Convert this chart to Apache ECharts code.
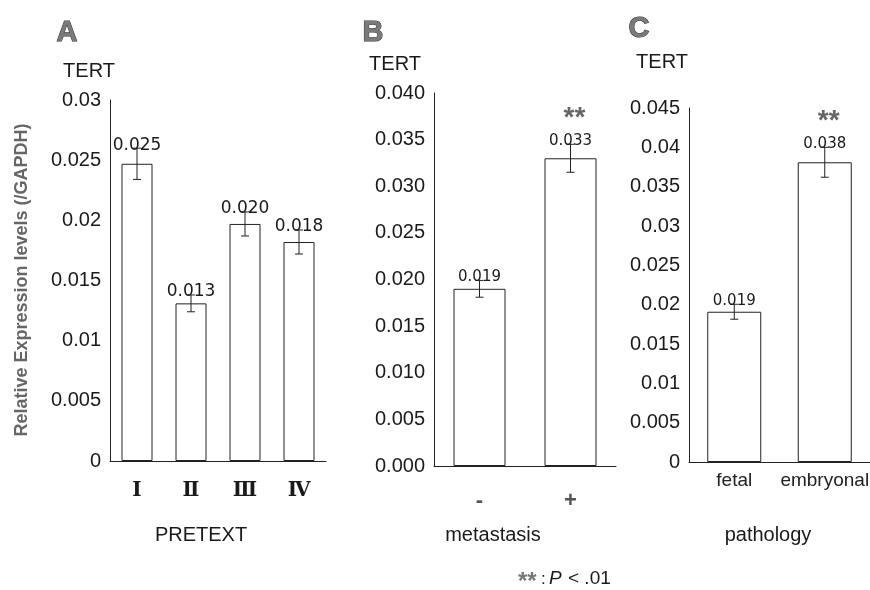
<!DOCTYPE html>
<html>
<head>
<meta charset="UTF-8">
<title>TERT</title>
<script src="https://cdn.jsdelivr.net/npm/echarts@6/dist/echarts.min.js"></script>
<style>
  html, body { margin: 0; padding: 0; background: #fff; }
  #chart { width: 870px; height: 590px; }
</style>
</head>
<body>
<div id="chart"></div>
<script>
// panel A - PRETEXT
var aCats = ['Ⅰ', 'Ⅱ', 'Ⅲ', 'Ⅳ'];
var aVals = [0.0247, 0.0131, 0.0197, 0.0182];
var aErr = [0.0013, 0.0007, 0.0010, 0.0010];
var aSig = ['', '', '', ''];
// panel B - metastasis
var bCats = ['-', '+'];
var bVals = [0.0190, 0.0330];
var bErr = [0.0009, 0.0015];
var bSig = ['', '**'];
// panel C - pathology
var cCats = ['fetal', 'embryonal'];
var cVals = [0.0191, 0.0381];
var cErr = [0.00095, 0.0019];
var cSig = ['', '**'];
// axis ranges
var aMax = 0.03, bMax = 0.04, cMax = 0.045, yStep = 0.005;

var chart = echarts.init(document.getElementById('chart'));
var txt = '#1a1a1a';
var sans = 'Liberation Sans, Arial, sans-serif';

function yAx(idx, max, fmt) {
  return {
    type: 'value', gridIndex: idx, min: 0, max: max, interval: yStep,
    axisLine: { show: true, lineStyle: { color: '#222', width: 1 } },
    axisTick: { show: false },
    splitLine: { show: false },
    axisLabel: { color: txt, fontSize: 20, fontFamily: sans, margin: 9, formatter: fmt }
  };
}

function xAx(idx, cats, margin, label) {
  return {
    type: 'category', gridIndex: idx, data: cats,
    axisLine: { lineStyle: { color: '#222', width: 1 } },
    axisTick: { show: false },
    axisLabel: Object.assign({ color: txt, margin: margin, interval: 0 }, label)
  };
}

function barSeries(idx, vals, w) {
  return {
    type: 'bar', xAxisIndex: idx, yAxisIndex: idx, data: vals, barWidth: w,
    itemStyle: { color: '#fff', borderColor: '#222', borderWidth: 1 },
    silent: true
  };
}

function errSeries(idx, vals, err, sig, labFont) {
  return {
    type: 'custom', xAxisIndex: idx, yAxisIndex: idx, z: 5, clip: false, silent: true,
    data: vals.map(function (v, i) { return [i, v, err[i]]; }),
    renderItem: function (params, api) {
      var i = api.value(0), v = api.value(1), e = api.value(2);
      var top = api.coord([i, v + e]);
      var bot = api.coord([i, v - e]);
      var x = top[0], cw = 4;
      var ls = { stroke: '#222', lineWidth: 1 };
      var kids = [
        { type: 'line', shape: { x1: x, y1: top[1], x2: x, y2: bot[1] }, style: ls },
        { type: 'line', shape: { x1: x - cw, y1: top[1], x2: x + cw, y2: top[1] }, style: ls },
        { type: 'line', shape: { x1: x - cw, y1: bot[1], x2: x + cw, y2: bot[1] }, style: ls },
        { type: 'text', style: { text: v.toFixed(3), x: x, y: top[1] - 3, align: 'center',
            verticalAlign: 'middle', font: labFont, fill: txt } }
      ];
      if (sig[i]) {
        kids.push({ type: 'text', style: { text: sig[i], x: x + 4, y: top[1] - 26, align: 'center',
          verticalAlign: 'middle', font: 'bold 28px ' + sans, fill: '#666' } });
      }
      return { type: 'group', children: kids };
    }
  };
}

function g(text, x, y, style) {
  return { type: 'text', x: x, y: y, style: Object.assign({ text: text, fill: txt, align: 'center',
    verticalAlign: 'middle', font: '20px ' + sans }, style) };
}

var letter = { font: 'bold 29px ' + sans, fill: '#7a7a7a', stroke: '#333', lineWidth: 1 };

var option = {
  animation: false,
  grid: [
    { left: 110, top: 100, width: 216, height: 361, outerBoundsMode: 'none' },
    { left: 434, top: 93, width: 182, height: 373, outerBoundsMode: 'none' },
    { left: 689, top: 108, width: 181, height: 354, outerBoundsMode: 'none' }
  ],
  xAxis: [
    xAx(0, aCats, 20, { fontSize: 20, fontFamily: 'DejaVu Serif, Liberation Serif, serif', fontWeight: 'bold' }),
    xAx(1, bCats, 24, { fontSize: 22, fontFamily: sans, fontWeight: 'bold', color: '#555' }),
    xAx(2, cCats, 9, { fontSize: 19, fontFamily: sans, color: '#222' })
  ],
  yAxis: [
    yAx(0, aMax),
    yAx(1, bMax, function (v) { return v.toFixed(3); }),
    yAx(2, cMax)
  ],
  series: [
    barSeries(0, aVals, 31),
    errSeries(0, aVals, aErr, aSig, '17px DejaVu Sans, sans-serif'),
    barSeries(1, bVals, 52),
    errSeries(1, bVals, bErr, bSig, '15px DejaVu Sans, sans-serif'),
    barSeries(2, cVals, 54),
    errSeries(2, cVals, cErr, cSig, '15px DejaVu Sans, sans-serif')
  ],
  graphic: [
    g('A', 67, 33, letter),
    g('B', 373, 33, letter),
    g('C', 639, 29, letter),
    g('TERT', 89, 71),
    g('TERT', 395, 64),
    g('TERT', 662, 62),
    g('PRETEXT', 201, 535),
    g('metastasis', 493, 535),
    g('pathology', 768, 535),
    { type: 'text', x: 22, y: 280, rotation: Math.PI / 2,
      style: { text: 'Relative Expression levels (/GAPDH)', fill: '#666', align: 'center',
        verticalAlign: 'middle', font: 'bold 18px ' + sans } },
    { type: 'text', x: 518, y: 582, style: { text: '**', fill: '#777', verticalAlign: 'middle',
        font: 'bold 24px ' + sans } },
    { type: 'text', x: 541, y: 579, style: { text: ':', fill: txt, verticalAlign: 'middle',
        font: '17px ' + sans } },
    { type: 'text', x: 549, y: 579, style: { text: 'P', fill: txt, verticalAlign: 'middle',
        font: 'italic 19px ' + sans } },
    { type: 'text', x: 568, y: 579, style: { text: '< .01', fill: txt, verticalAlign: 'middle',
        font: '19px ' + sans } }
  ]
};
chart.setOption(option);
</script>
</body>
</html>
